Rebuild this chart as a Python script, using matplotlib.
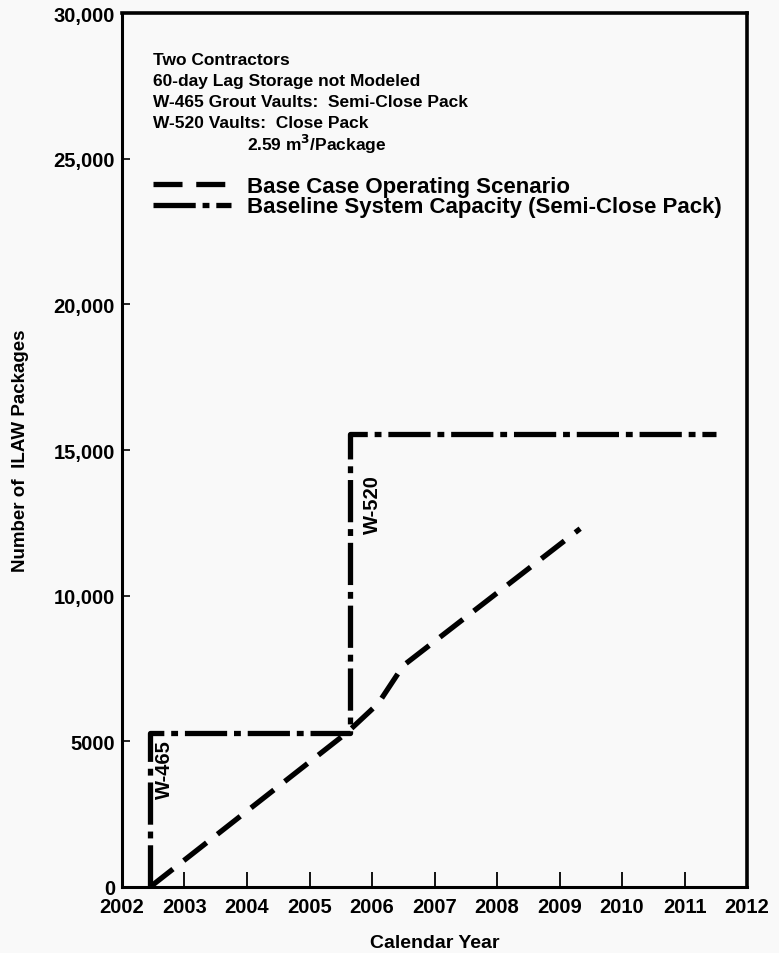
import matplotlib.pyplot as plt
from matplotlib.ticker import FixedLocator, FuncFormatter

# Base case operating scenario (dashed)
base_year = [2002.45, 2005.6, 2006.1, 2006.5, 2009.33]
base_pkgs = [0, 5300, 6300, 7600, 12300]

# Baseline system capacity, semi-close pack (dash-dot step)
cap_year = [2002.45, 2002.45, 2005.65, 2005.65, 2011.5]
cap_pkgs = [0, 5300, 5300, 15550, 15550]

notes = [
    "Two Contractors",
    "60-day Lag Storage not Modeled",
    "W-465 Grout Vaults:  Semi-Close Pack",
    "W-520 Vaults:  Close Pack",
]
per_pkg = "2.59 m$^{3}$/Package"

y_ticks = [0, 5000, 10000, 15000, 20000, 25000, 30000]
x_ticks = list(range(2002, 2013))

plt.rcParams['font.family'] = ['Liberation Sans', 'DejaVu Sans']
plt.rcParams['font.weight'] = 'bold'
plt.rcParams['mathtext.default'] = 'bf'

fig = plt.figure(figsize=(7.79, 9.54), dpi=100, facecolor='#f9f9f9')
ax = fig.add_axes([0.1566, 0.0692, 0.8024, 0.9161])
ax.set_facecolor('#f9f9f9')

ax.plot(base_year, base_pkgs, color='black', lw=3.8, dashes=(5.5, 2.6),
        dash_capstyle='butt',
        label='Base Case Operating Scenario')
ax.plot(cap_year, cap_pkgs, color='black', lw=3.8, dashes=(8, 1.3, 1.3, 1.3),
        dash_capstyle='butt',
        label='Baseline System Capacity (Semi-Close Pack)')

ax.set_xlim(2002, 2012)
ax.set_ylim(0, 30000)
ax.xaxis.set_major_locator(FixedLocator(x_ticks))
ax.yaxis.set_major_locator(FixedLocator(y_ticks))
ax.yaxis.set_major_formatter(FuncFormatter(
    lambda v, p: "%d" % v if v < 10000 else "{:,}".format(int(v))))
ax.tick_params(axis='x', direction='in', length=11, width=1.3, labelsize=14.5, pad=7)
ax.tick_params(axis='y', direction='in', length=6, width=1.2, labelsize=14.5, pad=5)
for lab in ax.get_xticklabels() + ax.get_yticklabels():
    lab.set_fontweight('bold')
for s in ['left', 'bottom']:
    ax.spines[s].set_linewidth(2.2)
for s in ['top', 'right']:
    ax.spines[s].set_linewidth(2.6)

ax.set_xlabel("Calendar Year", fontsize=14, fontweight='bold', labelpad=13)
ax.set_ylabel("Number of  ILAW Packages", fontsize=13.5, fontweight='bold', labelpad=18)

for i, t in enumerate(notes):
    ax.text(0.05, 0.947 - i * 0.024, t, transform=ax.transAxes, fontsize=12.5,
            fontweight='bold', va='center')
ax.text(0.2, 0.947 - 4 * 0.024, per_pkg, transform=ax.transAxes, fontsize=12.5,
        fontweight='bold', va='center')

leg = ax.legend(loc='upper left', bbox_to_anchor=(0.035, 0.824), frameon=False,
                fontsize=16, handlelength=3.5, handletextpad=0.75,
                labelspacing=-0.02, borderaxespad=0)
for t in leg.get_texts():
    t.set_fontweight('bold')

ax.text(2002.68, 4050, "W-465", rotation=90, fontsize=14.5, fontweight='bold',
        ha='center', va='center')
ax.text(2006.0, 13150, "W-520", rotation=90, fontsize=14.5, fontweight='bold',
        ha='center', va='center')

fig.savefig('out.png', dpi=100, facecolor=fig.get_facecolor())
